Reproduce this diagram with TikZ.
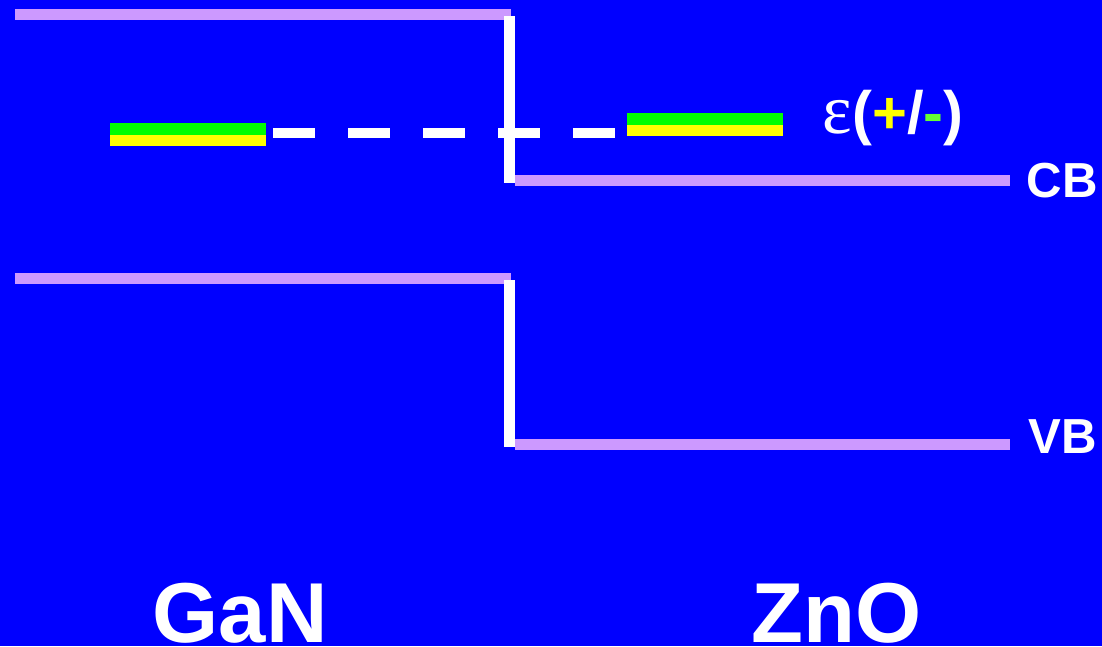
\documentclass[tikz,border=0pt]{standalone}
\usepackage{fontspec}
\setmainfont{Liberation Sans}
\newfontfamily\epsfont{Liberation Serif}
\usepackage{tikz}
\usetikzlibrary{positioning, calc}
\definecolor{BandBlue}{HTML}{0000FF}
\definecolor{BandLilac}{HTML}{CC99FF}
\definecolor{LevelGreen}{HTML}{00FF00}
\definecolor{LevelYellow}{HTML}{FFFF00}
\definecolor{MinusGreen}{HTML}{66FF33}

\begin{document}
\begin{tikzpicture}[
    band/.style={line width=3.4pt, color=BandLilac},
    offset/.style={line width=3.1pt, color=white},
    bandlabel/.style={anchor=base west, inner sep=0pt, text=white, font=\fontsize{14}{14}\selectfont\bfseries},
    material/.style={anchor=base, inner sep=0pt, text=white, font=\fontsize{24.2}{24}\selectfont\bfseries}]
    \fill[BandBlue] (0,0) rectangle (11.02,-6.46);
    \useasboundingbox (0,0) rectangle (11.02,-6.46);

    % conduction band and its step
    \draw[band] (0.15,-0.145) -- (5.11,-0.145);
    \draw[band] (5.15,-1.805) -- (10.10,-1.805);
    \draw[offset] (5.095,-0.16) -- (5.095,-1.83);

    % valence band and its step
    \draw[band] (0.15,-2.785) -- (5.11,-2.785);
    \draw[band] (5.15,-4.445) -- (10.10,-4.445);
    \draw[offset] (5.095,-2.80) -- (5.095,-4.47);

    % defect levels
    \draw[white, line width=3pt, dash pattern=on 11.95pt off 9.39pt] (2.73,-1.33) -- (6.15,-1.33);
    \fill[LevelGreen] (1.10,-1.23) rectangle (2.66,-1.35);
    \fill[LevelYellow] (1.10,-1.35) rectangle (2.66,-1.46);
    \fill[LevelGreen] (6.27,-1.13) rectangle (7.83,-1.25);
    \fill[LevelYellow] (6.27,-1.25) rectangle (7.83,-1.36);

    \node[bandlabel, font=\fontsize{17}{17}\selectfont\bfseries] (eps) at (8.22,-1.33)
        {{\epsfont\mdseries\fontsize{20}{20}\selectfont ε}(\textcolor{LevelYellow}{+}/\textcolor{MinusGreen}{-})};
    \node[bandlabel] (cb) at (10.26,-1.97) {CB};
    \node[bandlabel] (vb) at (10.28,-4.53) {VB};

    \node[material] (gan) at (2.40,-6.42) {GaN};
    \node[material] (zno) at (8.365,-6.42) {ZnO};
\end{tikzpicture}
\end{document}
